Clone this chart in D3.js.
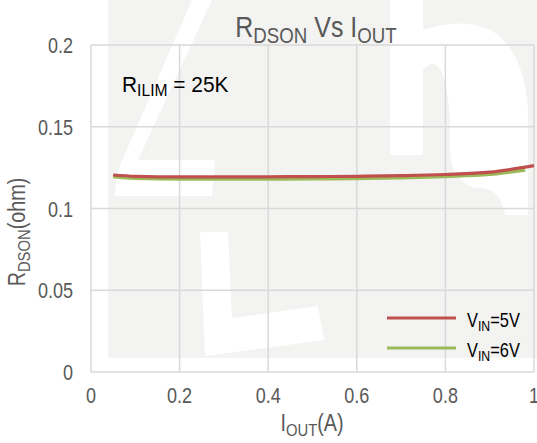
<!DOCTYPE html>
<html>
<head>
<meta charset="utf-8">
<script src="https://cdn.jsdelivr.net/npm/d3@7"></script>
<style>
  body { margin: 0; background: #fff; }
  text { font-family: "Liberation Sans", Arial, sans-serif; }
</style>
</head>
<body>
<div id="chart"></div>
<script>
const width = 537;
const height = 443;

// data
const iout5 = [0.05, 0.1, 0.2, 0.3, 0.4, 0.5, 0.6, 0.7, 0.8, 0.9, 1.0];
const rdson5 = [0.1205, 0.1197, 0.1193, 0.1193, 0.1194, 0.1195, 0.1197, 0.1201, 0.1208, 0.1222, 0.1262];
const iout6 = [0.05, 0.1, 0.2, 0.3, 0.4, 0.5, 0.6, 0.7, 0.8, 0.9, 0.98];
const rdson6 = [0.1195, 0.1184, 0.1180, 0.1180, 0.1180, 0.1181, 0.1183, 0.1187, 0.1195, 0.1208, 0.1235];
const xTicks = [0, 0.2, 0.4, 0.6, 0.8, 1];
const yTicks = [0, 0.05, 0.1, 0.15, 0.2];

const series = [
  { name: "5V", color: "#c0504d", xs: iout5, ys: rdson5 },
  { name: "6V", color: "#9bbb59", xs: iout6, ys: rdson6 }
];

const x = d3.scaleLinear().domain([0, 1]).range([91, 534]);
const y = d3.scaleLinear().domain([0, 0.2]).range([372, 45]);

const svg = d3.select("#chart").append("svg")
  .attr("width", width)
  .attr("height", height);

// faint watermark behind the plot
const wm = svg.append("g");
wm.append("rect").attr("x", 108).attr("y", 0).attr("width", 429).attr("height", 358).attr("fill", "#f3f3f2");
wm.append("path").attr("d", "M192,0 L212,0 L138,160 L215,160 L212,196 L114,196 L118,170 Z").attr("fill", "#fff");
wm.append("path").attr("d", "M200,232 L228,232 L232,318 L318,306 L324,340 L205,356 Z").attr("fill", "#fff");
wm.append("path").attr("d", "M390,0 L423,0 L423,30 Q520,0 528,110 L528,215 L505,215 Q500,185 475,188 Q450,180 450,150 L450,120 Q445,45 423,70 L423,155 L390,155 Z").attr("fill", "#fff");

// grid
svg.selectAll("line.vgrid")
  .data(xTicks)
  .enter()
  .append("line")
  .attr("x1", d => x(d)).attr("x2", d => x(d))
  .attr("y1", y(0.2)).attr("y2", y(0))
  .attr("stroke", "#d9d9d9")
  .attr("stroke-width", 1.5);

svg.selectAll("line.hgrid")
  .data(yTicks)
  .enter()
  .append("line")
  .attr("x1", x(0)).attr("x2", x(1))
  .attr("y1", d => y(d)).attr("y2", d => y(d))
  .attr("stroke", "#d9d9d9")
  .attr("stroke-width", 1.5);

// tick labels, squeezed a little to look like a narrow face
const narrow = 0.82;

svg.selectAll("g.xt")
  .data(xTicks)
  .enter()
  .append("g")
  .attr("transform", d => "translate(" + x(d) + ",403) scale(" + narrow + ",1)")
  .append("text")
  .text(d => d)
  .attr("text-anchor", "middle")
  .attr("font-size", 22)
  .attr("fill", "#595959");

svg.selectAll("g.yt")
  .data(yTicks)
  .enter()
  .append("g")
  .attr("transform", d => "translate(73," + (y(d) + 8) + ") scale(" + narrow + ",1)")
  .append("text")
  .text(d => d)
  .attr("text-anchor", "end")
  .attr("font-size", 22)
  .attr("fill", "#595959");

// curves
const line = d3.line()
  .x(d => x(d[0]))
  .y(d => y(d[1]))
  .curve(d3.curveMonotoneX);

series.slice().reverse().forEach(function (s) {
  svg.append("path")
    .datum(s.xs.map((v, i) => [v, s.ys[i]]))
    .attr("d", line)
    .attr("fill", "none")
    .attr("stroke", s.color)
    .attr("stroke-width", 3.2);
});

// helper for text with subscript, drawn in a squeezed group
function subText(xp, yp, parts, size, fill, anchor, sx, rot) {
  const g = svg.append("g")
    .attr("transform", "translate(" + xp + "," + yp + ")" + (rot ? " rotate(" + rot + ")" : "") + " scale(" + (sx || 1) + ",1)");
  const t = g.append("text")
    .attr("font-size", size)
    .attr("fill", fill)
    .attr("text-anchor", anchor || "start");
  parts.forEach(function (p) {
    if (p.sub) {
      t.append("tspan").text(p.t).attr("font-size", size * 0.75).attr("dy", size * 0.2);
    } else {
      const ts = t.append("tspan").text(p.t);
      if (p.up) ts.attr("dy", -size * 0.2);
    }
  });
  return g;
}

// title
subText(316, 37, [{ t: "R" }, { t: "DSON", sub: true }, { t: " Vs I", up: true }, { t: "OUT", sub: true }], 29, "#595959", "middle", 0.86);

// annotation
subText(122, 92, [{ t: "R" }, { t: "ILIM", sub: true }, { t: " = 25K", up: true }], 22, "#000", "start", 0.95);

// axis titles
subText(312, 431, [{ t: "I" }, { t: "OUT", sub: true }, { t: "(A)", up: true }], 23, "#595959", "middle", 0.86);

subText(25, 232, [{ t: "R" }, { t: "DSON", sub: true }, { t: "(ohm)", up: true }], 23, "#595959", "middle", 0.86, -90);

// legend
series.forEach(function (s, i) {
  const ly = 318 + i * 30;
  svg.append("line")
    .attr("x1", 387).attr("x2", 456)
    .attr("y1", ly).attr("y2", ly)
    .attr("stroke", s.color)
    .attr("stroke-width", 3);
  subText(467, ly + 9, [{ t: "V" }, { t: "IN", sub: true }, { t: "=" + s.name, up: true }], 20, "#000", "start", 0.82);
});
</script>
</body>
</html>
